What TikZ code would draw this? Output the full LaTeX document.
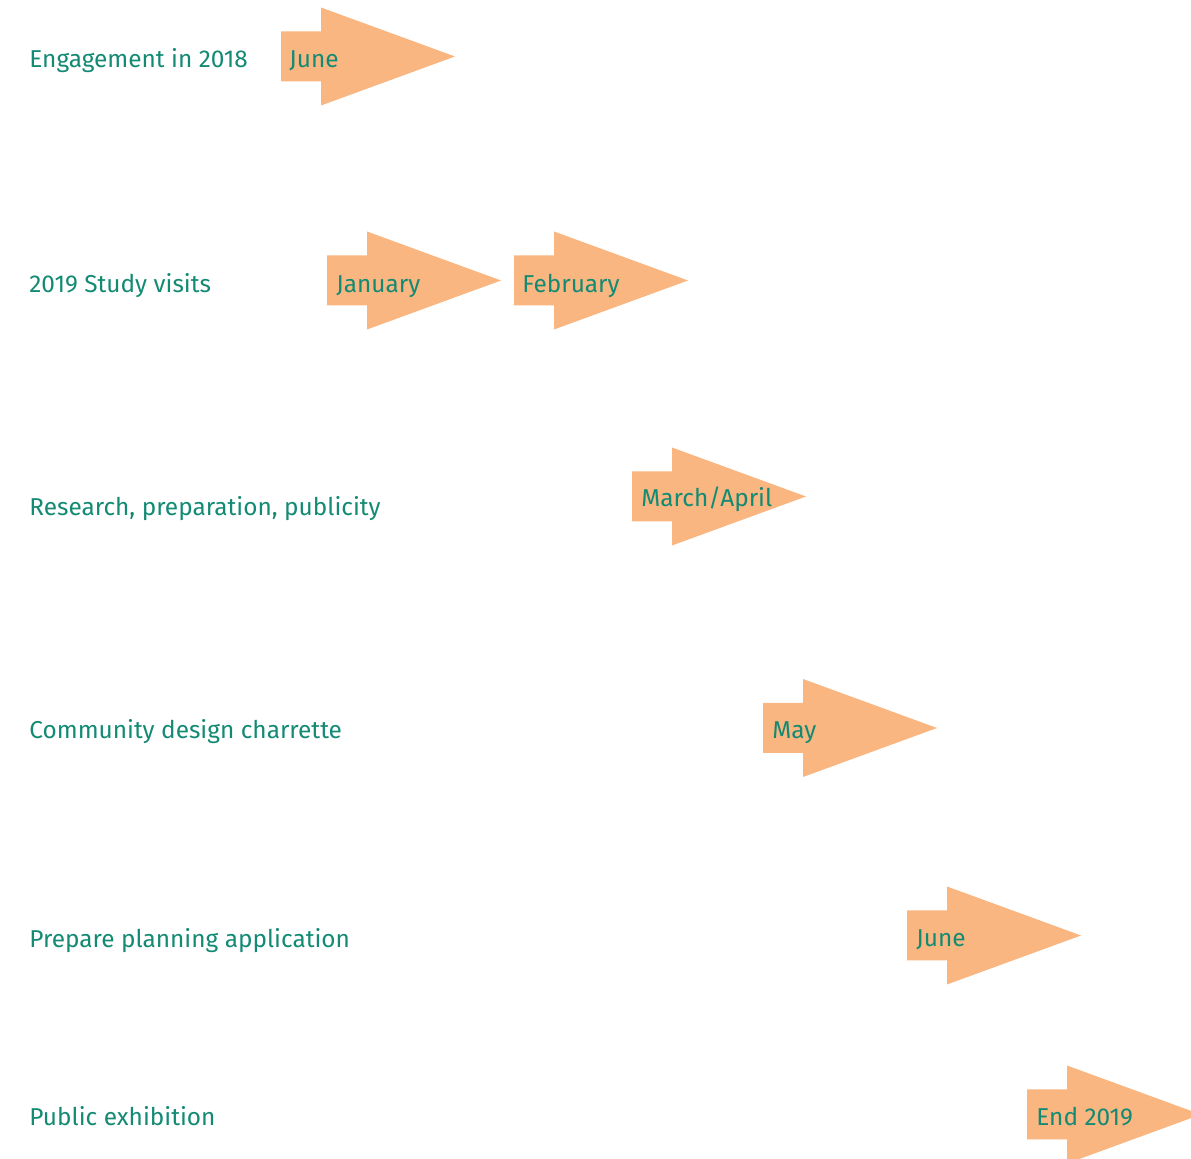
\documentclass[tikz,border=0pt]{standalone}
\usepackage{fontspec}
\setmainfont{Fira Sans}
\usetikzlibrary{positioning}
\definecolor{planteal}{HTML}{138A73}
\definecolor{planorange}{HTML}{F9B680}

\tikzset{
  flag/.pic={\fill[planorange] (0,-25) -- (40,-25) -- (40,-49) -- (174,0)
    -- (40,49) -- (40,25) -- (0,25) -- cycle;},
  stage/.style={font=\fontsize{12.2}{15}\selectfont, text=planteal,
    anchor=base west, inner sep=0pt},
}

\begin{document}
\begin{tikzpicture}[x=0.5pt, y=-0.5pt]
  \useasboundingbox (0,0) rectangle (1191,1159);
  \clip (0,0) rectangle (1191,1159);
  % 2018
  \pic at (281,56.5) {flag};
  \node[stage] (engage) at (29,68) {Engagement in 2018};
  \node[stage] (jun18) at (289,68) {June};
  % study visits
  \pic at (327,280.5) {flag};
  \pic at (514,280.5) {flag};
  \node[stage] (visits) at (29,293) {2019 Study visits};
  \node[stage] (jan) at (336,293) {January};
  \node[stage] (feb) at (522,293) {February};
  % research
  \pic at (632,496.5) {flag};
  \node[stage] (research) at (29,516) {Research, preparation, publicity};
  \node[stage] (marapr) at (641,507) {March/April};
  % charrette
  \pic at (763,728) {flag};
  \node[stage] (charrette) at (29,739) {Community design charrette};
  \node[stage] (may) at (772,739) {May};
  % planning application
  \pic at (907,935.5) {flag};
  \node[stage] (planning) at (29,948) {Prepare planning application};
  \node[stage] (jun19) at (916,947) {June};
  % exhibition
  \pic at (1027,1114.5) {flag};
  \node[stage] (exhibition) at (29,1126) {Public exhibition};
  \node[stage] (end19) at (1036,1126) {End 2019};
\end{tikzpicture}
\end{document}
